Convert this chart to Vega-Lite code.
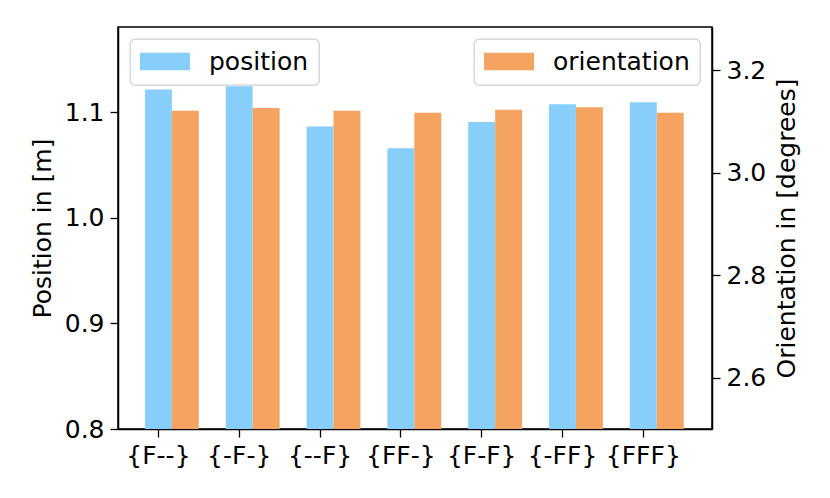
{
  "$schema": "https://vega.github.io/schema/vega-lite/v6.json",
  "autosize": {"type": "none"},
  "padding": {"left": 118, "top": 27, "right": 118, "bottom": 69},
  "width": 594,
  "height": 402,
  "background": "white",
  "data": {
    "values": [
      {"config": "{F--}", "series": "position", "value": 1.1214},
      {"config": "{-F-}", "series": "position", "value": 1.1245},
      {"config": "{--F}", "series": "position", "value": 1.0864},
      {"config": "{FF-}", "series": "position", "value": 1.0658},
      {"config": "{F-F}", "series": "position", "value": 1.0907},
      {"config": "{-FF}", "series": "position", "value": 1.1075},
      {"config": "{FFF}", "series": "position", "value": 1.1094},
      {"config": "{F--}", "series": "orientation", "value": 3.1208},
      {"config": "{-F-}", "series": "orientation", "value": 3.1261},
      {"config": "{--F}", "series": "orientation", "value": 3.1208},
      {"config": "{FF-}", "series": "orientation", "value": 3.1169},
      {"config": "{F-F}", "series": "orientation", "value": 3.1228},
      {"config": "{-FF}", "series": "orientation", "value": 3.1274},
      {"config": "{FFF}", "series": "orientation", "value": 3.1169}
    ]
  },
  "encoding": {
    "x": {
      "field": "config",
      "type": "nominal",
      "sort": null,
      "scale": {"paddingInner": 0, "paddingOuter": 0.175, "align": 0},
      "axis": {"title": null, "labelAngle": 0, "labelPadding": 6}
    },
    "xOffset": {
      "field": "series",
      "type": "nominal",
      "scale": {"domain": ["_", "position", "orientation"], "paddingInner": 0, "paddingOuter": 0}
    }
  },
  "layer": [
    {
      "transform": [{"filter": "datum.series == 'position'"}],
      "mark": {"type": "bar", "clip": true},
      "encoding": {
        "y": {
          "field": "value",
          "type": "quantitative",
          "scale": {"domain": [0.8, 1.1806], "nice": false, "zero": false},
          "axis": {"title": "Position in [m]", "values": [0.8, 0.9, 1.0, 1.1], "format": ".1f", "titlePadding": 9}
        },
        "color": {
          "field": "series",
          "type": "nominal",
          "scale": {"domain": ["position"], "range": ["#87CEFA"]},
          "legend": {"orient": "top-left", "symbolType": "M-1,-0.7H3V0.7H-1Z"}
        }
      }
    },
    {
      "transform": [{"filter": "datum.series == 'orientation'"}],
      "mark": {"type": "bar", "clip": true},
      "encoding": {
        "y": {
          "field": "value",
          "type": "quantitative",
          "scale": {"domain": [2.5, 3.284], "nice": false, "zero": false},
          "axis": {
            "title": "Orientation in [degrees]",
            "orient": "right",
            "values": [2.6, 2.8, 3.0, 3.2],
            "format": ".1f",
            "titleAngle": -90,
            "titleBaseline": "top",
            "titlePadding": 9
          }
        },
        "color": {
          "field": "series",
          "type": "nominal",
          "scale": {"domain": ["orientation"], "range": ["#F4A460"]},
          "legend": {"orient": "top-right", "symbolType": "M-1,-0.7H3V0.7H-1Z"}
        }
      }
    }
  ],
  "resolve": {"scale": {"y": "independent", "color": "independent"}},
  "config": {
    "font": "DejaVu Sans",
    "view": {"stroke": "black", "strokeWidth": 1.5},
    "axis": {
      "grid": false,
      "labelFont": "DejaVu Sans",
      "titleFont": "DejaVu Sans",
      "labelFontSize": 25,
      "titleFontSize": 25,
      "titleFontWeight": "normal",
      "labelColor": "black",
      "titleColor": "black",
      "domainColor": "black",
      "domainWidth": 1.5,
      "tickColor": "black",
      "tickWidth": 1.3,
      "tickSize": 8,
      "labelPadding": 6
    },
    "legend": {
      "title": null,
      "labelFont": "DejaVu Sans",
      "labelFontSize": 25,
      "labelColor": "black",
      "fillColor": "white",
      "strokeColor": "#d0d0d0",
      "strokeWidth": 1.3,
      "cornerRadius": 5,
      "padding": 10,
      "offset": 12,
      "symbolSize": 625,
      "symbolStrokeWidth": 0,
      "symbolOpacity": 1,
      "labelOffset": 44
    }
  }
}
